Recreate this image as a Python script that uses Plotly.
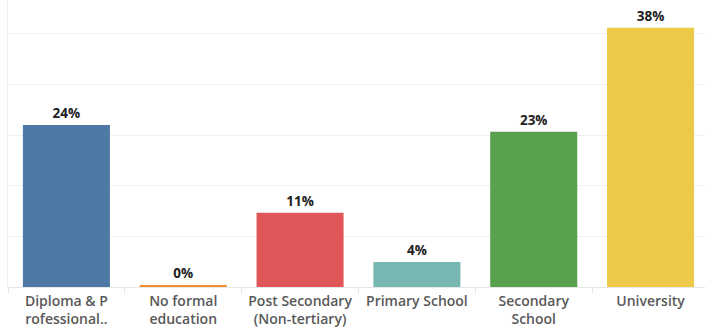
import plotly.graph_objects as go

categories = ["Diploma & P<br>rofessional..", "No formal<br>education", "Post Secondary<br>(Non-tertiary)",
              "Primary School", "Secondary<br>School", "University"]
values = [24.0, 0.3, 11.0, 3.7, 23.0, 38.4]
labels = ["24%", "0%", "11%", "4%", "23%", "38%"]
colors = ["#4e79a7", "#f28e2b", "#e15759", "#76b7b2", "#59a14f", "#edc948"]

fig = go.Figure(go.Bar(
    x=categories, y=values, marker=dict(color=colors, line=dict(width=0)),
    text=labels, textposition="outside", cliponaxis=False,
    textfont=dict(family="Open Sans", size=13.5, color="#222222", weight="bold"),
))
fig.update_layout(
    width=705, height=331, margin=dict(l=8, r=0, t=0, b=44),
    plot_bgcolor="white", paper_bgcolor="white", bargap=0.255, showlegend=False,
    font=dict(family="Open Sans"),
)
fig.update_xaxes(range=[-0.5, 5.466], tickson="boundaries", ticks="outside", ticklen=6,
                 tickcolor="#e6e6e6", showgrid=False, showline=False, ticklabelstandoff=4,
                 tickfont=dict(size=14, color="#595959", weight=600), tickangle=0)
fig.update_yaxes(range=[0, 42.5], dtick=7.5, showticklabels=False, gridcolor="#f0f0f0",
                 zeroline=True, zerolinecolor="#e6e6e6", zerolinewidth=1,
                 showline=True, linecolor="#eeeeee")
fig.write_html("out.html")
